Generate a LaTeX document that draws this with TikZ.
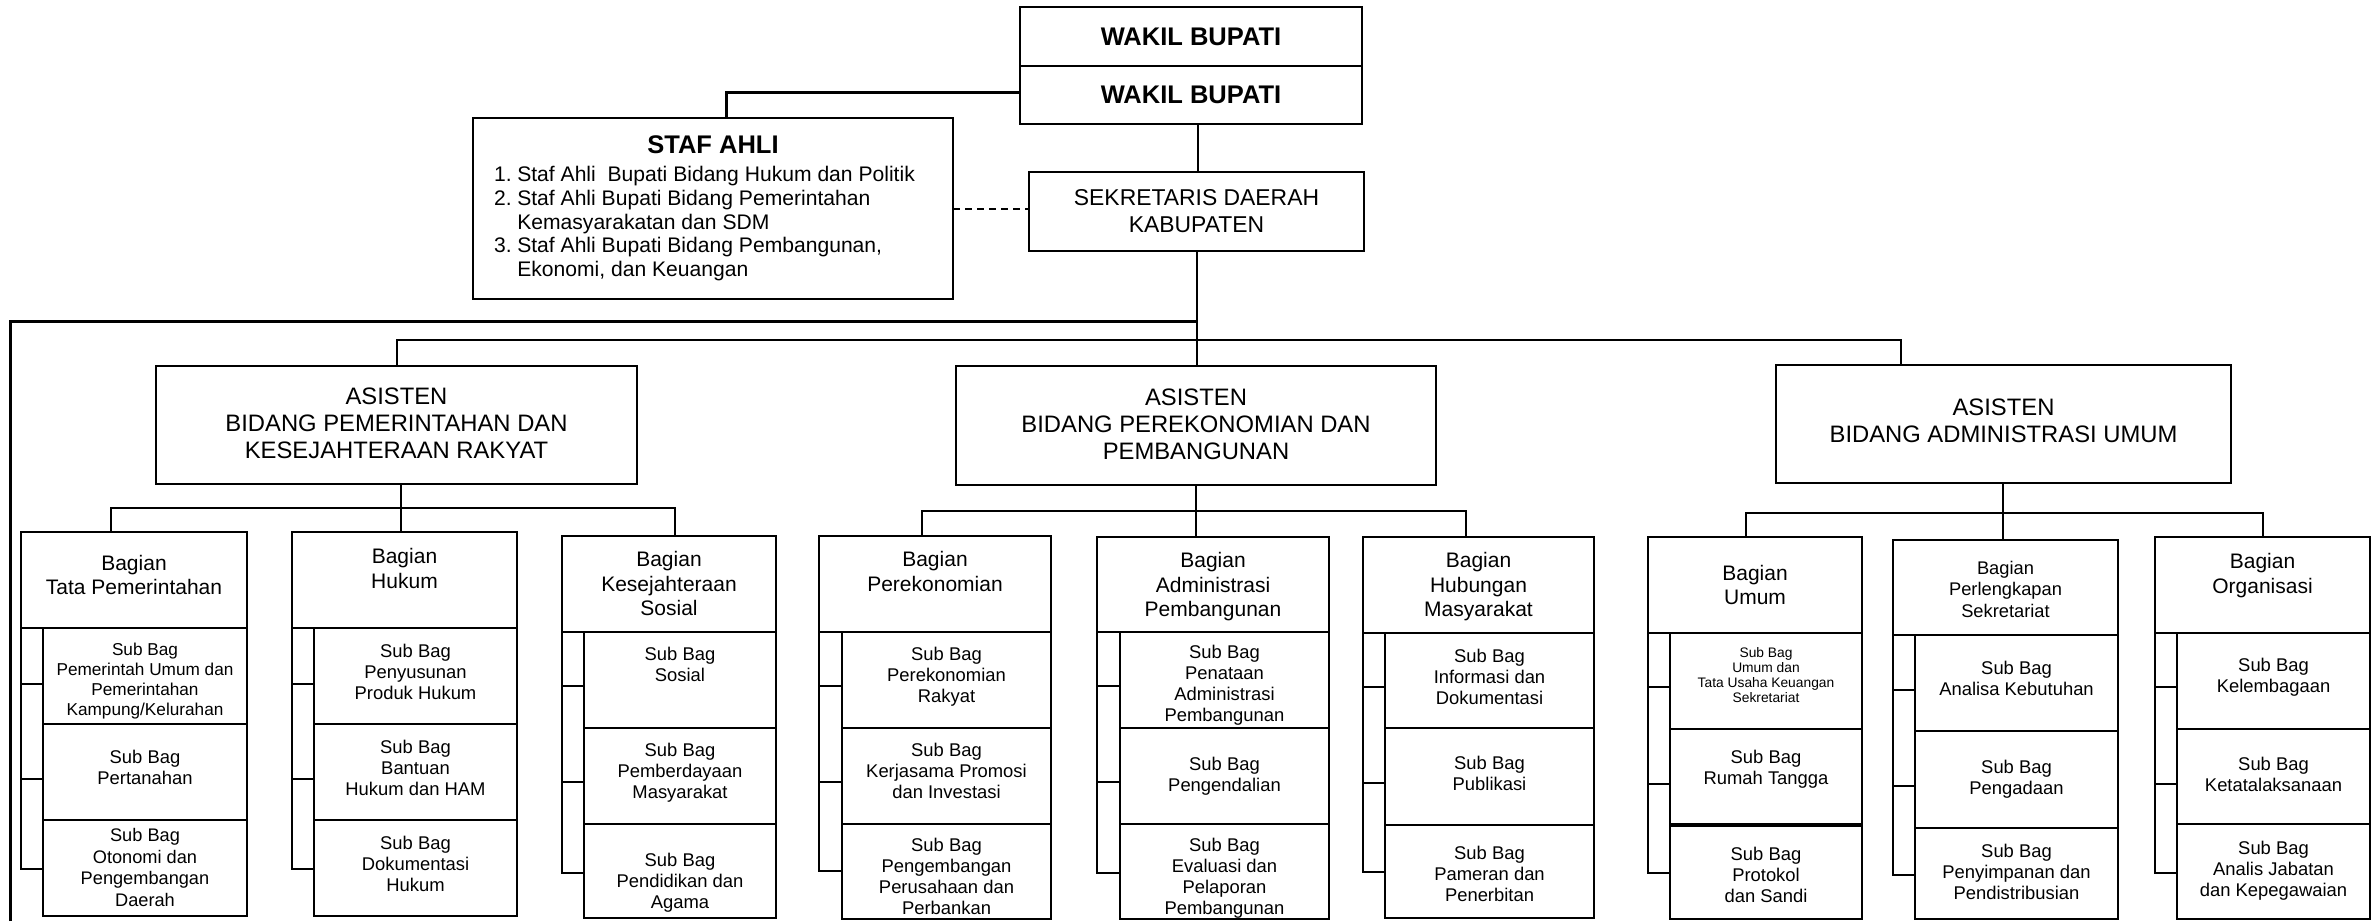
\documentclass[tikz,border=0pt]{standalone}
\usepackage{fontspec}
\setmainfont{Liberation Sans}
\usetikzlibrary{calc}

% box with corners (x1,y1)-(x2,y2), y growing downwards
\newcommand\orgbox[7][]{%
  \node[box,#1,minimum width={#5pt-#3pt},minimum height={#6pt-#4pt}] (#2) at (#3,#4) {#7};}
% text block hanging from the top edge of a box
\newcommand\intext[4][]{%
  \node[txt,#1] (#2t) at ([yshift=-#3pt]#2.north) {#4};}
% bracket joining a section head to its three sub-sections
\newcommand\bracket[7]{%
  \draw[conn] (#1.south west) -- (#1.south west |- 0,#7) -- (#4.west |- 0,#7);
  \draw[conn] (#1.south west |- 0,#5) -- (#2.west |- 0,#5);
  \draw[conn] (#1.south west |- 0,#6) -- (#3.west |- 0,#6);}

\tikzset{
  box/.style={draw,line width=2pt,fill=white,inner sep=0pt,outer sep=0pt,anchor=north west,align=center},
  txt/.style={inner sep=0pt,outer sep=0pt,align=center,anchor=north},
  conn/.style={line width=2pt},
  trunk/.style={line width=3pt},
  dashconn/.style={line width=2pt,dash pattern=on 7pt off 5pt},
  sub/.style={font=\fontsize{18.4}{21}\selectfont},
  subsmall/.style={font=\fontsize{17.2}{20}\selectfont},
  subtiny/.style={font=\fontsize{13.8}{15}\selectfont},
  head/.style={font=\fontsize{21}{24.5}\selectfont},
  headsmall/.style={font=\fontsize{18.3}{21.7}\selectfont},
  asis/.style={font=\fontsize{23.8}{27}\selectfont},
}

\begin{document}
\begin{tikzpicture}[x=1pt,y=-1pt]
\fill[white] (0,0) rectangle (2380,921);
\useasboundingbox (0,0) rectangle (2380,921);

% ---------- top of the chart ----------
\orgbox[font=\fontsize{25.5}{28}\selectfont\bfseries]{wb1}{1020}{7}{1362}{66}{WAKIL BUPATI}
\orgbox[font=\fontsize{25.5}{28}\selectfont\bfseries]{wb2}{1020}{66}{1362}{124}{WAKIL BUPATI}
\orgbox[font=\fontsize{22.9}{27}\selectfont]{sekda}{1029}{172}{1364}{251}{SEKRETARIS DAERAH\\KABUPATEN}

\orgbox{staf}{473}{118}{953}{299}{}
\intext[font=\fontsize{25.5}{28}\selectfont\bfseries]{staf}{17.7}{STAF AHLI}
\node[inner sep=0pt,anchor=base west,font=\fontsize{21.1}{23.7}\selectfont] (staflist) at (494,181.7)
  {\begin{tabular}[t]{@{}l@{\hspace{5.5pt}}l@{}}
   1. & Staf Ahli~ Bupati Bidang Hukum dan Politik\\
   2. & Staf Ahli Bupati Bidang Pemerintahan\\
      & Kemasyarakatan dan SDM\\
   3. & Staf Ahli Bupati Bidang Pembangunan,\\
      & Ekonomi, dan Keuangan
   \end{tabular}};

\draw[conn] (wb2.south -| 1198,0) -- (sekda.north -| 1198,0);
\draw[trunk] (wb2.west |- 0,92.5) -| (staf.north -| 726,0);
\draw[dashconn] (staf.east |- 0,209) -- (sekda.west |- 0,209);

% ---------- assistants ----------
\orgbox{a1}{156}{366}{637}{484}{}
\intext[asis]{a1}{22.3}{ASISTEN\\BIDANG PEMERINTAHAN DAN\\KESEJAHTERAAN RAKYAT}
\orgbox{a2}{956}{366}{1436}{485}{}
\intext[asis]{a2}{22.5}{ASISTEN\\BIDANG PEREKONOMIAN DAN\\PEMBANGUNAN}
\orgbox{a3}{1776}{365}{2231}{483}{}
\intext[asis,font=\fontsize{23.8}{27.5}\selectfont]{a3}{33.8}{ASISTEN\\BIDANG ADMINISTRASI UMUM}

\coordinate (leftend) at (10.5,921);
\draw[trunk] (leftend) -- (10.5,321.5) -- (sekda.south |- 0,321.5);
\draw[conn] (sekda.south -| 1197,0) -- (a2.north -| 1197,0);
\draw[conn] (a1.north -| 397,0) -- (397,340) -- (1901,340) -- (a3.north -| 1901,0);

% ---------- sections under the first assistant ----------
\orgbox{tataH}{21}{532}{247}{628}{}
\intext[head]{tataH}{23}{Bagian\\Tata Pemerintahan}
\orgbox{tataS1}{43}{628}{247}{724}{}
\intext[subsmall]{tataS1}{15}{Sub Bag\\Pemerintah Umum dan\\Pemerintahan\\Kampung/Kelurahan}
\orgbox{tataS2}{43}{724}{247}{820}{}
\intext[sub]{tataS2}{26}{Sub Bag\\Pertanahan}
\orgbox{tataS3}{43}{820}{247}{916}{}
\intext[sub,font=\fontsize{18.2}{21.6}\selectfont]{tataS3}{8.4}{Sub Bag\\Otonomi dan\\Pengembangan\\Daerah}

\orgbox{hukH}{292}{532}{517}{628}{}
\intext[head]{hukH}{16.6}{Bagian\\Hukum}
\orgbox{hukS1}{314}{628}{517}{724}{}
\intext[sub]{hukS1}{16}{Sub Bag\\Penyusunan\\Produk Hukum}
\orgbox{hukS2}{314}{724}{517}{820}{}
\intext[sub]{hukS2}{16}{Sub Bag\\Bantuan\\Hukum dan HAM}
\orgbox{hukS3}{314}{820}{517}{916}{}
\intext[sub]{hukS3}{16}{Sub Bag\\Dokumentasi\\Hukum}

\orgbox{kesH}{562}{536}{776}{632}{}
\intext[head]{kesH}{15.6}{Bagian\\Kesejahteraan\\Sosial}
\orgbox{kesS1}{584}{632}{776}{728}{}
\intext[sub]{kesS1}{15.4}{Sub Bag\\Sosial}
\orgbox{kesS2}{584}{728}{776}{824}{}
\intext[sub]{kesS2}{15.4}{Sub Bag\\Pemberdayaan\\Masyarakat}
\orgbox{kesS3}{584}{824}{776}{918}{}
\intext[sub]{kesS3}{29.4}{Sub Bag\\Pendidikan dan\\Agama}

\coordinate (j1) at (401,508);
\draw[conn] (a1.south -| j1) -- (j1) -- (hukH.north -| j1);
\draw[conn] (tataH.north -| 111,0) -- (111,508) -- (675,508) -- (kesH.north -| 675,0);
\bracket{tataH}{tataS1}{tataS2}{tataS3}{684}{779}{869}
\bracket{hukH}{hukS1}{hukS2}{hukS3}{684}{779}{869}
\bracket{kesH}{kesS1}{kesS2}{kesS3}{686}{782}{873}

% ---------- sections under the second assistant ----------
\orgbox{perH}{819}{536}{1051}{632}{}
\intext[head]{perH}{15.6}{Bagian\\Perekonomian}
\orgbox{perS1}{842}{632}{1051}{728}{}
\intext[sub]{perS1}{15.4}{Sub Bag\\Perekonomian\\Rakyat}
\orgbox{perS2}{842}{728}{1051}{824}{}
\intext[sub]{perS2}{15.4}{Sub Bag\\Kerjasama Promosi\\dan Investasi}
\orgbox{perS3}{842}{824}{1051}{919}{}
\intext[sub]{perS3}{14.4}{Sub Bag\\Pengembangan\\Perusahaan dan\\Perbankan}

\orgbox{admH}{1097}{537}{1329}{632}{}
\intext[head]{admH}{15.6}{Bagian\\Administrasi\\Pembangunan}
\orgbox{admS1}{1120}{632}{1329}{728}{}
\intext[sub]{admS1}{13}{Sub Bag\\Penataan\\Administrasi\\Pembangunan}
\orgbox{admS2}{1120}{728}{1329}{824}{}
\intext[sub]{admS2}{29}{Sub Bag\\Pengendalian}
\orgbox{admS3}{1120}{824}{1329}{919}{}
\intext[sub]{admS3}{14.4}{Sub Bag\\Evaluasi dan\\Pelaporan\\Pembangunan}

\orgbox{humH}{1363}{537}{1594}{633}{}
\intext[head]{humH}{15.6}{Bagian\\Hubungan\\Masyarakat}
\orgbox{humS1}{1385}{633}{1594}{728}{}
\intext[sub]{humS1}{16.3}{Sub Bag\\Informasi dan\\Dokumentasi}
\orgbox{humS2}{1385}{728}{1594}{825}{}
\intext[sub]{humS2}{28.5}{Sub Bag\\Publikasi}
\orgbox{humS3}{1385}{825}{1594}{918}{}
\intext[sub]{humS3}{21}{Sub Bag\\Pameran dan\\Penerbitan}

\coordinate (j2) at (1196,511);
\draw[conn] (a2.south -| j2) -- (j2) -- (admH.north -| j2);
\draw[conn] (perH.north -| 922,0) -- (922,511) -- (1466,511) -- (humH.north -| 1466,0);
\bracket{perH}{perS1}{perS2}{perS3}{686}{782}{871}
\bracket{admH}{admS1}{admS2}{admS3}{686}{782}{873}
\bracket{humH}{humS1}{humS2}{humS3}{687}{783}{872}

% ---------- sections under the third assistant ----------
\orgbox{umH}{1648}{537}{1862}{633}{}
\intext[head]{umH}{28}{Bagian\\Umum}
\orgbox{umS1}{1670}{633}{1862}{729}{}
\intext[subtiny]{umS1}{14}{Sub Bag\\Umum dan\\Tata Usaha Keuangan\\Sekretariat}
\orgbox{umS2}{1670}{729}{1862}{824}{}
\intext[sub]{umS2}{21.5}{Sub Bag\\Rumah Tangga}
\orgbox{umS3}{1670}{826}{1862}{919}{}
\intext[sub]{umS3}{20.7}{Sub Bag\\Protokol\\dan Sandi}

\orgbox{plH}{1893}{540}{2118}{635}{}
\intext[headsmall]{plH}{21}{Bagian\\Perlengkapan\\Sekretariat}
\orgbox{plS1}{1915}{635}{2118}{731}{}
\intext[sub]{plS1}{25.8}{Sub Bag\\Analisa Kebutuhan}
\orgbox{plS2}{1915}{731}{2118}{828}{}
\intext[sub]{plS2}{28.8}{Sub Bag\\Pengadaan}
\orgbox{plS3}{1915}{828}{2118}{919}{}
\intext[sub]{plS3}{15.7}{Sub Bag\\Penyimpanan dan\\Pendistribusian}

\orgbox{orH}{2155}{537}{2370}{633}{}
\intext[head]{orH}{16.3}{Bagian\\Organisasi}
\orgbox{orS1}{2177}{633}{2370}{729}{}
\intext[sub]{orS1}{24.8}{Sub Bag\\Kelembagaan}
\orgbox{orS2}{2177}{729}{2370}{824}{}
\intext[sub]{orS2}{28}{Sub Bag\\Ketatalaksanaan}
\orgbox{orS3}{2177}{824}{2370}{919}{}
\intext[sub]{orS3}{17}{Sub Bag\\Analis Jabatan\\dan Kepegawaian}

\coordinate (j3) at (2003,513);
\draw[conn] (a3.south -| j3) -- (j3) -- (plH.north -| j3);
\draw[conn] (umH.north -| 1746,0) -- (1746,513) -- (2263,513) -- (orH.north -| 2263,0);
\bracket{umH}{umS1}{umS2}{umS3}{687}{784}{873}
\bracket{plH}{plS1}{plS2}{plS3}{690}{786}{875}
\bracket{orH}{orS1}{orS2}{orS3}{687}{784}{873}
\end{tikzpicture}
\end{document}
